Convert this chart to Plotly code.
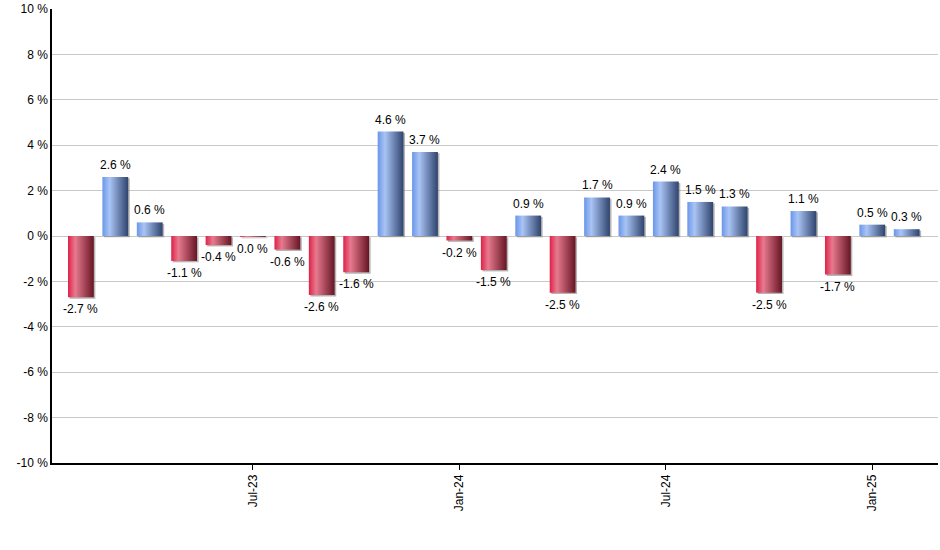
import plotly.graph_objects as go

months = [
    "Feb-23", "Mar-23", "Apr-23", "May-23", "Jun-23", "Jul-23", "Aug-23",
    "Sep-23", "Oct-23", "Nov-23", "Dec-23", "Jan-24", "Feb-24", "Mar-24",
    "Apr-24", "May-24", "Jun-24", "Jul-24", "Aug-24", "Sep-24", "Oct-24",
    "Nov-24", "Dec-24", "Jan-25", "Feb-25",
]
returns = [
    -2.7, 2.6, 0.6, -1.1, -0.4, -0.04, -0.6, -2.6, -1.6, 4.6, 3.7, -0.2, -1.5,
    0.9, -2.5, 1.7, 0.9, 2.4, 1.5, 1.3, -2.5, 1.1, -1.7, 0.5, 0.3,
]
x_ticks = ["Jul-23", "Jan-24", "Jul-24", "Jan-25"]
y_ticks = [-10, -8, -6, -4, -2, 0, 2, 4, 6, 8, 10]
y_ticktext = [f"{v} %" for v in y_ticks]

blue_scale = [[0, "#6a96e8"], [0.28, "#a9c4f5"], [1, "#2f436d"]]
red_scale = [[0, "#df2149"], [0.28, "#e77a8e"], [1, "#661524"]]
half = 0.375

fig = go.Figure()

for i, v in enumerate(returns):
    xs = [i - half, i + half, i + half, i - half, i - half]
    ys = [0, 0, v, v, 0]
    # soft shadow on the right / bottom edge
    fig.add_trace(go.Scatter(
        x=[p + 0.045 for p in xs],
        y=[p - 0.06 for p in ys],
        fill="toself", mode="none", fillcolor="rgba(120,120,120,0.55)",
        hoverinfo="skip", showlegend=False,
    ))
    fig.add_trace(go.Scatter(
        x=xs, y=ys, fill="toself", mode="none",
        fillgradient=dict(type="horizontal",
                          colorscale=blue_scale if v >= 0 else red_scale),
        hoverinfo="skip", showlegend=False,
    ))

labels = [f"{v:.1f} %".replace("-0.0", "0.0") for v in returns]
for i, (v, t) in enumerate(zip(returns, labels)):
    fig.add_annotation(
        x=i, y=v, text=t, showarrow=False,
        yanchor="bottom" if v >= 0 else "top",
        yshift=3 if v >= 0 else -3,
        font=dict(family="Liberation Sans", size=12, color="#000"),
    )

fig.update_layout(
    width=940, height=550,
    margin=dict(l=52, r=2, t=9, b=87),
    plot_bgcolor="white", paper_bgcolor="white",
    font=dict(family="Liberation Sans", size=12, color="#000"),
    showlegend=False,
)
fig.update_xaxes(
    range=[-0.84, 24.91], automargin=False,
    tickvals=[months.index(m) for m in x_ticks], ticktext=x_ticks,
    tickangle=-90, ticks="outside", ticklen=5, tickcolor="#000",
    showgrid=False, zeroline=False,
    showline=True, linecolor="#000", linewidth=1.5,
)
fig.update_yaxes(
    range=[-10, 10], tickvals=y_ticks, ticktext=y_ticktext, automargin=False,
    showgrid=True, gridcolor="#c8c8c8", gridwidth=1, zeroline=False,
    showline=True, linecolor="#000", linewidth=1.5, ticks="",
)

fig.write_html(
    "out.html",
    config={"displayModeBar": False},
    post_script="document.body.style.margin='0';",
)
